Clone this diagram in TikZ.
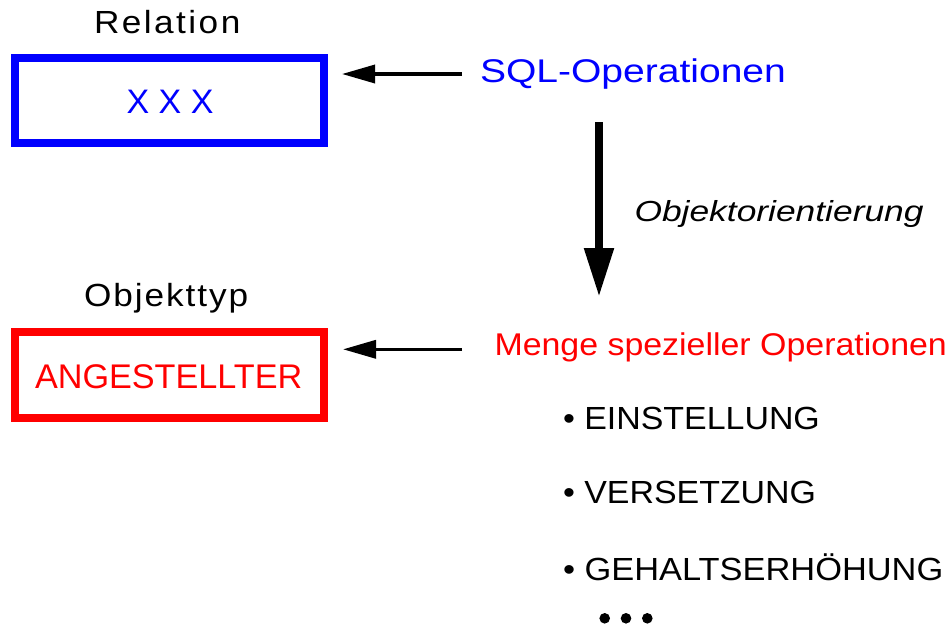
\documentclass[tikz,border=0pt]{standalone}
\usepackage{fontspec}
\setmainfont{Liberation Sans}
\usetikzlibrary{arrows.meta}
\definecolor{pblue}{RGB}{0,0,255}
\definecolor{pred}{RGB}{255,0,0}
\begin{document}
\begin{tikzpicture}[x=1pt,y=-1pt,
  lbl/.style={anchor=base west,inner sep=0pt,outer sep=0pt},
  boxx/.style={draw,line width=7.7pt,minimum width=309pt,inner sep=0pt},
  arr/.style={line width=3.5pt,-{Triangle[length=33pt,width=18pt]}},
  bigarr/.style={line width=8.3pt,-{Triangle[length=49pt,width=28pt]}}]
\useasboundingbox (0,0) rectangle (950,625);
% labels
\node[lbl] (rel) at (94,33) {\scalebox{1.1}[1]{\fontsize{32}{34}\selectfont\addfontfeature{LetterSpace=7}Relation}};
\node[lbl] (obt) at (84,306) {\scalebox{1.1}[1]{\fontsize{32}{34}\selectfont\addfontfeature{LetterSpace=5.5}Objekttyp}};
% boxes
\node[boxx,draw=pblue,minimum height=85pt] (box1) at (169.5,100.5) {};
\node[lbl,anchor=base,text=pblue] (xxx) at (170,113) {\fontsize{34}{36}\selectfont X X X};
\node[boxx,draw=pred,minimum height=86pt] (box2) at (169.5,375) {};
\node[lbl,text=pred] (ang) at (35,388) {\fontsize{34.2}{36}\selectfont ANGESTELLTER};
% right side texts
\node[lbl,text=pblue] (sql) at (480,82) {\scalebox{1.19}[1]{\fontsize{32.8}{34}\selectfont SQL-Operationen}};
\node[lbl] (oo) at (634.5,221) {\scalebox{1.22}[1]{\fontsize{29}{31}\selectfont\itshape Objektorientierung}};
\node[lbl,text=pred] (menge) at (494.5,355) {\scalebox{1.08}[1]{\fontsize{31.4}{33}\selectfont Menge spezieller Operationen}};
\node[lbl] (b1) at (563,429) {\scalebox{1.06}[1]{\fontsize{32}{34}\selectfont • EINSTELLUNG}};
\node[lbl] (b2) at (563,503) {\scalebox{1.06}[1]{\fontsize{32}{34}\selectfont • VERSETZUNG}};
\node[lbl] (b3) at (563,580) {\scalebox{1.075}[1]{\fontsize{32}{34}\selectfont • GEHALTSERHÖHUNG}};
% dots
\fill (604.7,618.3) circle (5.3);
\fill (626,618.3) circle (5.3);
\fill (647.3,618.3) circle (5.3);
% arrows
\coordinate (a1s) at (462,74);
\coordinate (a1e) at (342,74);
\coordinate (a2s) at (462,349.3);
\coordinate (a2e) at (343,349.3);
\coordinate (vs) at (599,122);
\coordinate (ve) at (599,297);
\draw[arr] (a1s) -- (a1e);
\draw[arr] (a2s) -- (a2e);
\draw[bigarr] (vs) -- (ve);
\end{tikzpicture}
\end{document}
